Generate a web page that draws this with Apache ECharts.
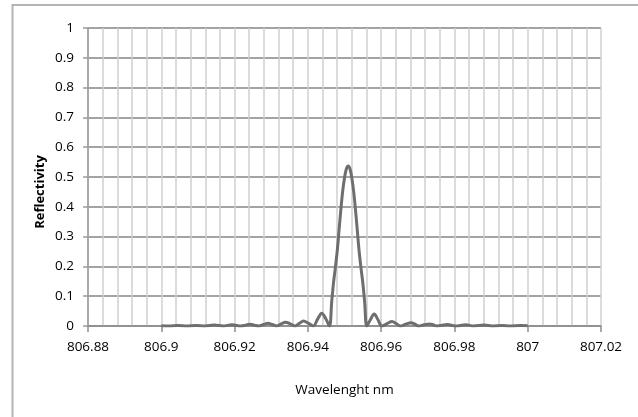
<!DOCTYPE html>
<html>
<head>
<meta charset="utf-8">
<script src="https://cdn.jsdelivr.net/npm/echarts@6/dist/echarts.min.js"></script>
<style>
html,body{margin:0;padding:0;background:#fff;}
#chart{width:638px;height:417px;}
</style>
</head>
<body>
<div id="chart"></div>
<script>
// Wavelength (nm) sample points
const wavelength = [
  806.900, 806.902, 806.9046, 806.907, 806.9095, 806.912, 806.9144, 806.9169,
  806.9193, 806.9218, 806.923, 806.9242, 806.9254, 806.9266, 806.9279, 806.9291,
  806.9303, 806.9315, 806.9327, 806.9339, 806.9352, 806.9365, 806.9377, 806.9388,
  806.9402, 806.9415, 806.9427, 806.9438, 806.9449, 806.9459,
  806.9465, 806.947, 806.9475, 806.948, 806.9485, 806.949, 806.9495, 806.950, 806.9505,
  806.951,
  806.9515, 806.952, 806.9525, 806.953, 806.9535, 806.954, 806.9545, 806.955, 806.9555,
  806.9561, 806.9571, 806.9581, 806.9591, 806.9602, 806.9616, 806.963, 806.9641,
  806.9652, 806.9667, 806.9682, 806.9692, 806.9702, 806.9717, 806.9732, 806.9742,
  806.9752, 806.9781, 806.9802, 806.9831, 806.9852, 806.9881, 806.9902, 806.9931,
  806.9952, 806.9981, 807.000
];
// Reflectivity values
const reflectivity = [
  0.001, 0.000, 0.0015, 0.000, 0.002, 0.000, 0.003, 0.000,
  0.004, 0.000, 0.003, 0.006, 0.003, 0.000, 0.005, 0.009,
  0.005, 0.000, 0.007, 0.013, 0.007, 0.000, 0.009, 0.017,
  0.009, 0.000, 0.024, 0.043, 0.024, 0.000,
  0.08, 0.145, 0.195, 0.25, 0.32, 0.39, 0.452, 0.497, 0.527,
  0.537,
  0.527, 0.497, 0.452, 0.39, 0.32, 0.25, 0.195, 0.145, 0.08,
  0.000, 0.022, 0.040, 0.022, 0.000, 0.008, 0.015, 0.008,
  0.000, 0.006, 0.011, 0.006, 0.000, 0.004, 0.007, 0.004,
  0.000, 0.005, 0.000, 0.004, 0.000, 0.003, 0.000, 0.002,
  0.000, 0.0015, 0.001
];
const yTicks = [0, 0.1, 0.2, 0.3, 0.4, 0.5, 0.6, 0.7, 0.8, 0.9, 1];
const xTicks = [806.88, 806.9, 806.92, 806.94, 806.96, 806.98, 807, 807.02];

const points = wavelength.map((w, i) => [w, reflectivity[i]]);

const chart = echarts.init(document.getElementById('chart'), null, {renderer: 'canvas'});
const font = "'Open Sans', 'Liberation Sans', sans-serif";
chart.setOption({
  animation: false,
  backgroundColor: '#ffffff',
  grid: {left: 88, right: 37, top: 28, bottom: 91, containLabel: false},
  graphic: [
    {type: 'rect', shape: {x: 12.5, y: 5, width: 800, height: 600},
     style: {fill: 'none', stroke: '#b4b4b4', lineWidth: 2}, z: -10},
    {type: 'text', x: 40, y: 192, rotation: Math.PI / 2,
     style: {text: 'Reflectivity', font: "bold 13px " + font, fill: '#000',
             textAlign: 'center', textVerticalAlign: 'middle'}}
  ],
  xAxis: {
    type: 'value',
    min: xTicks[0], max: xTicks[xTicks.length - 1], interval: 0.02,
    name: 'Wavelenght nm', nameLocation: 'middle', nameGap: 57,
    nameTextStyle: {fontFamily: font, fontSize: 13.5, color: '#000'},
    axisLine: {show: true, onZero: false, lineStyle: {color: '#8c8c8c', width: 1.5}},
    axisTick: {show: true, length: 6, lineStyle: {color: '#8c8c8c', width: 1.5}},
    axisLabel: {margin: 14, fontFamily: font, fontSize: 13.5, color: '#000',
                formatter: v => String(+v.toFixed(2))},
    splitLine: {show: true, lineStyle: {color: '#d0d0d0', width: 1.5}},
    minorTick: {show: false, splitNumber: 5},
    minorSplitLine: {show: true, lineStyle: {color: '#d0d0d0', width: 1.5}}
  },
  yAxis: {
    type: 'value', min: yTicks[0], max: yTicks[yTicks.length - 1], interval: 0.1,
    axisLine: {show: true, lineStyle: {color: '#9a9a9a', width: 1.5}},
    axisTick: {show: true, length: 5, lineStyle: {color: '#9a9a9a', width: 1.5}},
    axisLabel: {margin: 14, fontFamily: font, fontSize: 13.5, color: '#000',
                formatter: v => String(+v.toFixed(1))},
    splitLine: {show: true, lineStyle: {color: '#a3a3a3', width: 2}}
  },
  series: [{
    type: 'line', data: points, showSymbol: false, smooth: 0.35,
    lineStyle: {color: '#6e6e6e', width: 3}, clip: true
  }]
});
</script>
</body>
</html>
